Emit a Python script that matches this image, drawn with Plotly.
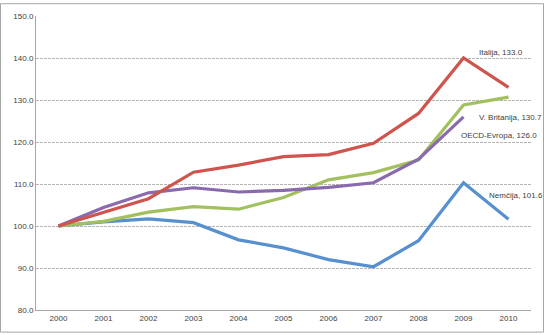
import plotly.graph_objects as go

years = ["2000", "2001", "2002", "2003", "2004", "2005", "2006", "2007", "2008", "2009", "2010"]
italija = [100.0, 103.2, 106.5, 112.8, 114.5, 116.5, 117.0, 119.7, 126.8, 140.0, 133.0]
britanija = [100.0, 101.1, 103.3, 104.6, 104.0, 106.8, 111.0, 112.7, 115.7, 128.8, 130.7]
oecd = [100.0, 104.4, 107.9, 109.1, 108.1, 108.5, 109.2, 110.3, 115.9, 126.0]
nemcija = [100.0, 101.0, 101.7, 100.8, 96.7, 94.8, 92.0, 90.3, 96.5, 110.3, 101.6]

series = [
    ("Nemčija", nemcija, "#5690CE"),
    ("V. Britanija", britanija, "#A2C15E"),
    ("OECD-Evropa", oecd, "#8A6AAE"),
    ("Italija", italija, "#CE554D"),
]

fig = go.Figure()
for name, vals, col in series:
    fig.add_trace(go.Scatter(x=years[:len(vals)], y=vals, mode="lines", name=name,
                             line=dict(color=col, width=3.2), hoverinfo="skip"))

font = dict(family="Liberation Sans, Arial, sans-serif", size=8, color="#404040")

labels = [
    ("Italija, 133.0", 9.29, 141.2),
    ("V. Britanija, 130.7", 9.29, 125.9),
    ("OECD-Evropa, 126.0", 8.9, 121.5),
    ("Nemčija, 101.6", 9.53, 107.2),
]
for txt, xv, yv in labels:
    fig.add_annotation(x=xv, y=yv, xref="x", yref="y", text=txt, showarrow=False,
                       xanchor="left", yanchor="middle", font=font)

# outer chart border
W, H = 544, 335
l, r, t, b = 36, 13, 13, 23
pw, ph = W - l - r, H - t - b
fig.add_shape(type="rect", xref="paper", yref="paper",
              x0=(0.5 - l) / pw, x1=(W - 0.5 - l) / pw,
              y0=-(b - 0.5) / ph, y1=(ph + t - 0.5) / ph,
              line=dict(color="#A6A6A6", width=1), fillcolor="rgba(0,0,0,0)", layer="below")

fig.update_layout(
    width=W, height=H,
    margin=dict(l=l, r=r, t=t, b=b),
    paper_bgcolor="white", plot_bgcolor="white",
    showlegend=False,
    font=font,
    xaxis=dict(type="category", range=[-0.5, 10.5], showgrid=False,
               showline=True, linecolor="#A6A6A6", linewidth=1, ticks="",
               tickfont=font, fixedrange=True),
    yaxis=dict(range=[80, 150], dtick=10, tickformat=".1f", showgrid=True,
               gridcolor="#B4B4B4", griddash="3px,1px", gridwidth=1,
               showline=True, linecolor="#A6A6A6", linewidth=1, ticks="",
               zeroline=False, tickfont=font, fixedrange=True),
)

fig.write_html("out.html")
